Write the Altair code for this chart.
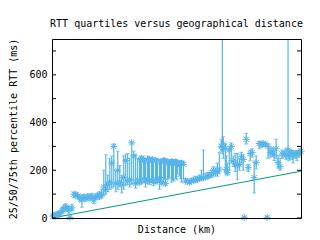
import altair as alt
import pandas as pd

# distance (km), 25th / 50th / 75th percentile RTT (ms)
dist = [80, 160, 240, 320, 400, 480, 640, 800, 960, 1120, 1280, 1360, 1440, 1600,
        1760, 1920, 2080, 2240, 2400, 2560, 2720, 2880, 3040, 3200, 3360, 3520, 3680, 3840, 4000,
        4160, 4320, 4480, 4640, 4800, 4960, 5120, 5280, 5440, 5600, 5760, 5920, 6080, 6240, 6400,
        6560, 6720, 6880, 7040, 7200, 7360, 7520, 7680, 7840, 8000, 8160, 8320, 8480, 8640, 8800,
        8960, 9120, 9280, 9440, 9600, 9760, 9920, 10080, 10240, 10400, 10560,
        10720, 10880, 11040, 11200, 11360, 11520, 11680, 11840, 12000, 12160, 12320, 12480, 12640, 12800,
        12960, 13120, 13280, 13440, 13600, 13680, 13760, 13920, 14000, 14080, 14240, 14400, 14560, 14720,
        14880, 15040, 15200, 15360, 15440, 15600, 15760, 15920, 16080, 16240, 16400, 16640, 16800, 16960,
        17120, 17280, 17360, 17520, 17680, 17840, 18000, 18160, 18320, 18480, 18640, 18800, 18960, 19040,
        19200, 19360, 19520, 19680, 19840, 20000,
        7120, 7440, 7760, 8080, 8400, 8720, 9040, 9360, 9680, 10000, 10320]
p25 = [2, 5, 3, 8, 6, 10, 12, 20, 25, 30, 28, 20, 1, 30,
       85, 90, 80, 70, 45, 78, 70, 80, 72, 80, 60, 78, 85, 80, 85,
       95, 100, 110, 120, 125, 130, 110, 120, 130, 105, 120, 135, 140, 130, 140,
       150, 125, 145, 140, 145, 150, 130, 145, 140, 150, 135, 145, 150, 120, 140,
       150, 135, 160, 170, 150, 155, 165, 185, 175, 150, 165,
       150, 148, 145, 150, 152, 150, 155, 158, 160, 160, 165, 165, 170, 170,
       175, 180, 175, 185, 280, 270, 250, 200, 185, 180, 200, 230, 215, 195,
       160, 200, 230, 200, 0, 310, 195, 240, 255, 105, 205, 290, 295, 300,
       298, 0, 250, 255, 260, 240, 250, 210, 200, 250, 255, 245, 250, 240,
       245, 230, 250, 240, 255, 262,
       150, 155, 150, 150, 155, 150, 160, 165, 160, 160, 165]
p50 = [8, 10, 6, 14, 12, 15, 20, 30, 40, 45, 38, 35, 3, 42,
       100, 98, 92, 85, 75, 88, 82, 90, 85, 92, 75, 88, 95, 90, 100,
       130, 120, 140, 150, 230, 300, 145, 200, 150, 140, 170, 240, 155, 160, 315,
       260, 145, 160, 150, 250, 240, 165, 155, 245, 160, 150, 240, 155, 170, 150,
       240, 145, 235, 230, 235, 225, 235, 230, 220, 230, 225,
       155, 152, 150, 155, 158, 160, 162, 165, 170, 168, 172, 175, 178, 185,
       200, 190, 195, 205, 300, 295, 310, 290, 203, 190, 285, 300, 240, 225,
       220, 224, 257, 245, 3, 330, 211, 270, 274, 169, 232, 312, 310, 312,
       310, 3, 300, 275, 280, 265, 290, 232, 215, 268, 270, 265, 285, 262,
       275, 260, 270, 265, 275, 280,
       245, 160, 240, 245, 160, 235, 240, 230, 235, 232, 228]
p75 = [15, 18, 12, 20, 22, 25, 30, 45, 55, 60, 50, 48, 8, 58,
       108, 106, 100, 95, 95, 98, 92, 100, 96, 102, 90, 100, 105, 110, 120,
       200, 265, 180, 250, 260, 310, 200, 280, 220, 180, 260, 265, 270, 250, 320,
       280, 265, 250, 245, 260, 255, 250, 260, 255, 250, 245, 250, 248, 245, 240,
       250, 245, 245, 240, 245, 240, 245, 240, 235, 240, 235,
       165, 162, 158, 165, 168, 175, 172, 180, 200, 285, 185, 190, 190, 200,
       215, 210, 230, 275, 330, 780, 340, 310, 260, 230, 300, 315, 260, 270,
       270, 250, 275, 265, 6, 355, 225, 285, 290, 235, 260, 318, 318, 316,
       316, 6, 312, 290, 295, 285, 330, 262, 250, 285, 280, 290, 780, 280,
       285, 282, 280, 282, 285, 292,
       255, 250, 250, 252, 245, 245, 248, 242, 245, 242, 238]

# minimum-RTT reference line (endpoints)
line_dist = [0, 20000]
line_rtt = [0, 196]

y_ticks = [0, 100, 200, 300, 400, 500, 600, 700]

df = pd.DataFrame({"dist": dist, "p25": p25, "p50": p50, "p75": p75})
ldf = pd.DataFrame({"dist": line_dist, "rtt": line_rtt})
tdf = pd.DataFrame({"t": y_ticks})
one = pd.DataFrame({"k": [0]})

BLUE = "#56B4E9"
GREEN = "#009E73"
FONT = "DejaVu Sans Mono"
W, H = 249, 179

xs = alt.Scale(domain=[0, 20000], nice=False, zero=False)
ys = alt.Scale(domain=[0, 750], nice=False)

x_enc = alt.X("dist:Q", scale=xs,
              axis=alt.Axis(title="Distance (km)", labels=False, ticks=False, domain=False,
                            grid=False, titleFont=FONT, titleFontSize=10,
                            titleFontWeight="normal", titleColor="black", titlePadding=6))
y_axis = alt.Axis(title="25/50/75th percentile RTT (ms)", values=y_ticks, ticks=False,
                  domain=False, grid=False, labelFont=FONT, labelFontSize=10,
                  labelColor="black", labelPadding=5, titleFont=FONT, titleFontSize=10,
                  titleFontWeight="normal", titleColor="black", titlePadding=10)

base = alt.Chart(df)

bars = base.mark_rule(color=BLUE, strokeWidth=1.2, clip=True).encode(
    x=x_enc,
    y=alt.Y("p25:Q", scale=ys, axis=y_axis),
    y2="p75:Q",
)
cap_lo = base.mark_tick(color=BLUE, orient="horizontal", size=4, thickness=1, clip=True).encode(
    x=alt.X("dist:Q", scale=xs), y=alt.Y("p25:Q", scale=ys))
cap_hi = base.mark_tick(color=BLUE, orient="horizontal", size=4, thickness=1, clip=True).encode(
    x=alt.X("dist:Q", scale=xs), y=alt.Y("p75:Q", scale=ys))

star = "M-1,0L1,0M0,-1L0,1M-0.75,-0.75L0.75,0.75M-0.75,0.75L0.75,-0.75"
pts = base.mark_point(shape=star, size=49, filled=False, color=BLUE, strokeWidth=1,
                      opacity=1).encode(
    x=alt.X("dist:Q", scale=xs), y=alt.Y("p50:Q", scale=ys))

line = alt.Chart(ldf).mark_line(color=GREEN, strokeWidth=1).encode(
    x=alt.X("dist:Q", scale=xs), y=alt.Y("rtt:Q", scale=ys))

ltick = alt.Chart(tdf).mark_rule(color="black", strokeWidth=1).encode(
    y=alt.Y("t:Q", scale=ys), x=alt.value(0), x2=alt.value(4))
rtick = alt.Chart(tdf).mark_rule(color="black", strokeWidth=1).encode(
    y=alt.Y("t:Q", scale=ys), x=alt.value(W - 4), x2=alt.value(W))

border = alt.Chart(one).mark_rect(fillOpacity=0, stroke="black", strokeWidth=1).encode(
    x=alt.value(0.5), x2=alt.value(W + 0.5), y=alt.value(0.5), y2=alt.value(H + 0.5))

chart = alt.layer(line, bars, cap_lo, cap_hi, pts, ltick, rtick, border).properties(
    width=W, height=H,
    background="white",
    title=alt.TitleParams("RTT quartiles versus geographical distance", font=FONT,
                          fontSize=10, fontWeight="normal", color="black", offset=9),
    autosize=alt.AutoSizeParams(type="none"),
    padding={"left": 52, "top": 39, "right": 19, "bottom": 22},
).configure_view(strokeOpacity=0)

chart.save("out.html", embed_options={"renderer": "svg", "actions": False})
